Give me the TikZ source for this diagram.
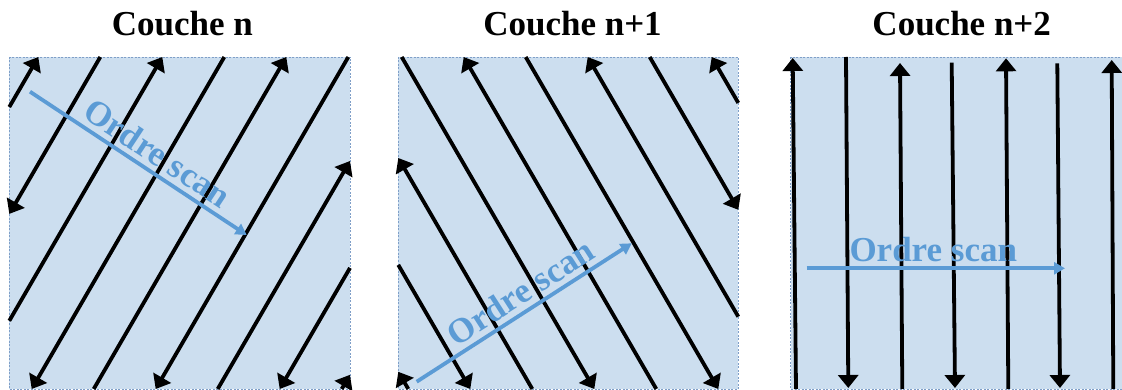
\documentclass[tikz,border=0pt]{standalone}
\usepackage{fontspec}
\setmainfont{Liberation Serif}
\usetikzlibrary{arrows.meta}
\definecolor{panelfill}{HTML}{CCDEEF}
\definecolor{panelborder}{HTML}{7F9FC8}
\definecolor{scanblue}{HTML}{5B9BD5}
\tikzset{
  panel/.style={fill=panelfill, draw=panelborder, line width=0.8pt, dash pattern=on 2pt off 1.5pt},
  track/.style={line width=3.8pt, black, -{Triangle[length=13pt,width=20pt]}},
  scan/.style={line width=3.8pt, scanblue, -{Triangle[length=11pt,width=12pt]}},
  scanlabel/.style={text=scanblue, font=\fontsize{35}{38}\selectfont\bfseries, inner sep=5pt},
  title/.style={font=\fontsize{35}{38}\selectfont\bfseries, anchor=base, inner sep=0pt}
}
\begin{document}
\begin{tikzpicture}[x=1pt,y=-1pt]
\useasboundingbox (0,0) rectangle (1122,390);
\clip (0,0) rectangle (1122,390);
% titles
\node[title] (t1) at (182.4,36) {Couche n};
\node[title] (t2) at (572.5,36) {Couche n+1};
\node[title] (t3) at (961.7,36) {Couche n+2};
% panels
\path[panel] (9.3,57) rectangle (350,389);
\path[panel] (398.3,57) rectangle (738.3,389);
\path[panel] (790.7,57) rectangle (1131,389);
% panel 1 tracks
\coordinate (a0s) at (9.3,107);    \coordinate (a0e) at (38.3,57);
\coordinate (a1s) at (100.3,57);   \coordinate (a1e) at (9.3,213.9);
\coordinate (a2s) at (9.3,320.8);  \coordinate (a2e) at (162.3,57);
\coordinate (a3s) at (224.3,57);   \coordinate (a3e) at (31.7,389);
\coordinate (a4s) at (93.7,389);   \coordinate (a4e) at (286.3,57);
\coordinate (a5s) at (348.3,57);   \coordinate (a5e) at (155.7,389);
\coordinate (a6s) at (217.7,389);  \coordinate (a6e) at (350,161);
\coordinate (a7s) at (350,267.9);  \coordinate (a7e) at (279.7,389);
\coordinate (a8s) at (341.7,389);  \coordinate (a8e) at (350,374.8);
\foreach \k in {0,...,8} {\draw[track] (a\k s) -- (a\k e);}
% panel 2 tracks
\coordinate (b0s) at (408.3,389);  \coordinate (b0e) at (398.3,371.8);
\coordinate (b1s) at (398.3,264.9);\coordinate (b1e) at (470.3,389);
\coordinate (b2s) at (532.3,389);  \coordinate (b2e) at (398.3,158);
\coordinate (b3s) at (401.7,57);   \coordinate (b3e) at (594.3,389);
\coordinate (b4s) at (656.3,389);  \coordinate (b4e) at (463.7,57);
\coordinate (b5s) at (525.7,57);   \coordinate (b5e) at (718.3,389);
\coordinate (b6s) at (738.3,316.7);\coordinate (b6e) at (587.7,57);
\coordinate (b7s) at (649.7,57);   \coordinate (b7e) at (738.3,209.8);
\coordinate (b8s) at (738.3,102.9);\coordinate (b8e) at (711.7,57);
\foreach \k in {0,...,8} {\draw[track] (b\k s) -- (b\k e);}
% panel 3 tracks
\coordinate (c0s) at (796,389);    \coordinate (c0e) at (792.7,58);
\coordinate (c1s) at (846,57);     \coordinate (c1e) at (848.3,388);
\coordinate (c2s) at (902.3,389);  \coordinate (c2e) at (900,63);
\coordinate (c3s) at (951.7,62.7); \coordinate (c3e) at (955,388);
\coordinate (c4s) at (1008.3,389); \coordinate (c4e) at (1006,58.3);
\coordinate (c5s) at (1057.3,63.3);\coordinate (c5e) at (1060,388);
\coordinate (c6s) at (1113.3,389); \coordinate (c6e) at (1111.7,60);
\foreach \k in {0,...,6} {\draw[track] (c\k s) -- (c\k e);}
% scan order arrows
\coordinate (s1s) at (30,91.7);    \coordinate (s1e) at (246.7,235);
\coordinate (s2s) at (416.7,381.7);\coordinate (s2e) at (631.7,243.3);
\coordinate (s3s) at (806.7,268.3);\coordinate (s3e) at (1065,268.3);
\draw[scan] (s1s) -- node[scanlabel, sloped, above, pos=0.54] (l1) {Ordre scan} (s1e);
\draw[scan] (s2s) -- node[scanlabel, sloped, above, pos=0.53] (l2) {Ordre scan} (s2e);
\draw[scan] (s3s) -- node[scanlabel, above, pos=0.49] (l3) {Ordre scan} (s3e);
\end{tikzpicture}
\end{document}
